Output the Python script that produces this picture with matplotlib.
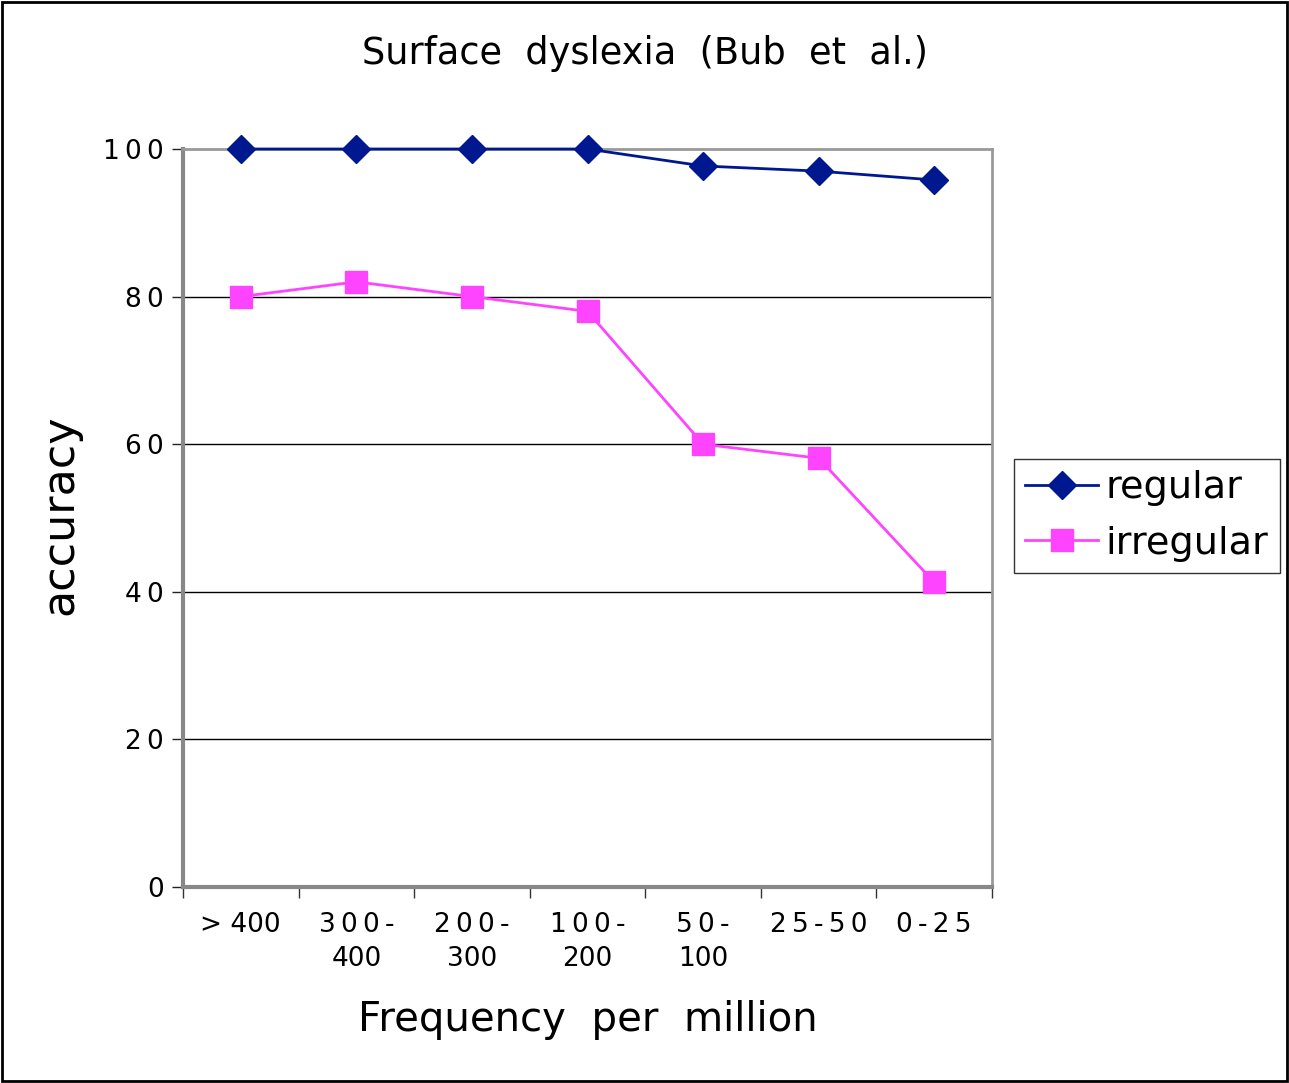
import matplotlib
matplotlib.use("Agg")
import matplotlib.pyplot as plt
from matplotlib.patches import Rectangle

# data
categories = ["> 400", "300-\n400", "200-\n300", "100-\n200", "50-\n100", "25-50", "0-25"]
regular = [100, 100, 100, 100, 97.7, 97, 95.8]
irregular = [80, 82, 80, 78, 60, 58.1, 41.3]
yticks = [0, 20, 40, 60, 80, 100]

navy = "#00188f"
magenta = "#ff44ff"
thin = "\u2009"


def spaced(s):
    # the original spreads out the hyphenated parts, second lines stay tight
    lines = s.split("\n")
    out = []
    for line in lines:
        if "-" in line:
            out.append(thin.join(line))
        else:
            out.append(line)
    return "\n".join(out)


fig = plt.figure(figsize=(12.89, 10.83), dpi=100)
ax = fig.add_axes([183/1289, 1-887/1083, (992-183)/1289, (887-149)/1083])

x = list(range(len(categories)))
ax.plot(x, regular, color=navy, lw=2, marker="D", ms=14, label="regular", zorder=4, clip_on=False)
ax.plot(x, irregular, color=magenta, lw=2, marker="s", ms=16, label="irregular", zorder=3, clip_on=False)

ax.set_xlim(-0.5, len(categories) - 0.5)
ax.set_ylim(0, 100)

# category labels centred, ticks on the boundaries
ax.set_xticks([i - 0.5 for i in range(len(categories) + 1)])
ax.set_xticklabels([])
ax.tick_params(axis="x", length=8, direction="out", color="#333333", width=1)
for i, lab in enumerate(categories):
    ax.text(i, -3.4, spaced(lab), ha="center", va="top", fontsize=19, linespacing=1.4)

ax.set_yticks(yticks)
ax.set_yticklabels([thin.join(str(v)) for v in yticks], fontsize=19)
ax.tick_params(axis="y", length=8, direction="out", color="#222222", width=1, pad=6)

for v in yticks[1:-1]:
    ax.axhline(v, color="black", lw=1, zorder=1)

for side in ["left", "bottom"]:
    ax.spines[side].set_color("#888888")
    ax.spines[side].set_linewidth(3)
for side in ["top", "right"]:
    ax.spines[side].set_color("#999999")
    ax.spines[side].set_linewidth(2)

fig.text(645/1289, 1-53/1083, "Surface  dyslexia  (Bub  et  al.)", ha="center", va="center", fontsize=26.5)
fig.text(588/1289, 1-1020/1083, "Frequency  per  million", ha="center", va="center", fontsize=29)
fig.text(60/1289, 1-515/1083, "accuracy", ha="center", va="center", rotation=90, fontsize=32)

leg = ax.legend(loc="upper left", bbox_to_anchor=(1014/1289, 1-459/1083), bbox_transform=fig.transFigure,
                fontsize=27.5, frameon=True, fancybox=False, edgecolor="black", handlelength=1.9,
                handletextpad=0.2, borderpad=0.3, labelspacing=0.5, borderaxespad=0)
leg.get_frame().set_linewidth(1)

fig.patches.append(Rectangle((2/1289, 2/1083), 1285/1289, 1079/1083, transform=fig.transFigure,
                             fill=False, edgecolor="black", lw=2))

fig.savefig("out.png", dpi=100)
